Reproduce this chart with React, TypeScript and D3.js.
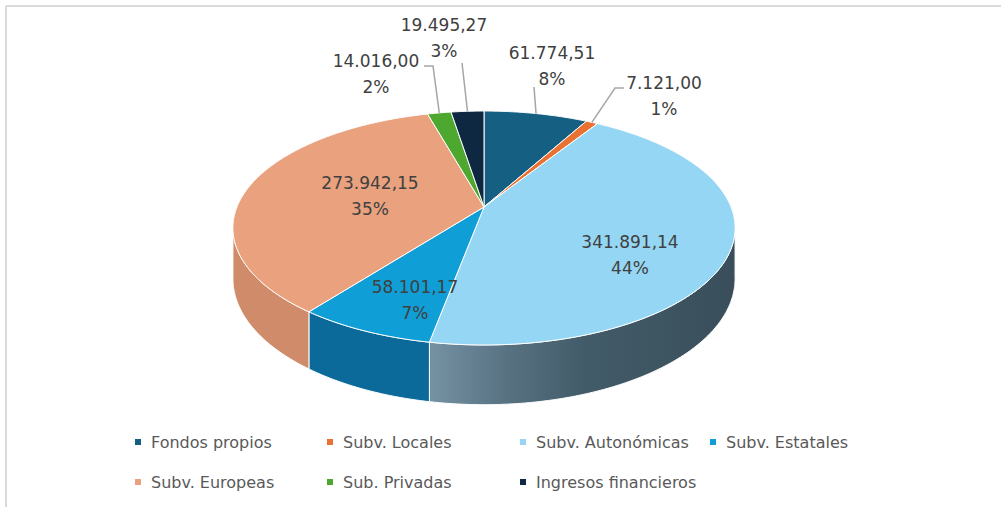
import React from "react";
import * as d3 from "d3";

// ---- data ----
const categories = [
  "Fondos propios",
  "Subv. Locales",
  "Subv. Autonómicas",
  "Subv. Estatales",
  "Subv. Europeas",
  "Sub. Privadas",
  "Ingresos financieros",
];
const values = [61774.51, 7121.0, 341891.14, 58101.17, 273942.15, 14016.0, 19495.27];

// ---- styles ----
const topColors = ["#156082", "#E97132", "#94D6F3", "#0F9ED5", "#E9A17E", "#4EA72E", "#0E2841"];
const sideColors = ["#0f4a66", "#b8582a", "url(#sideAuto)", "#0b6a9a", "#cf8b6a", "#3a8022", "#0a1d30"];

// label layout (center of first line), leader end points
const labelPos: [number, number][] = [
  [552, 53],
  [664, 83],
  [630, 242],
  [415, 287],
  [370, 183],
  [376, 61],
  [444, 25],
];
const leaderPts: ([number, number][] | null)[] = [
  [[534, 87]],
  [[615, 88], [624, 88]],
  null,
  null,
  null,
  [[433, 66], [424, 66]],
  [[462, 63]],
];
const legendCols = [135, 327, 520, 710];
const legendRows = [442, 482];

// ---- geometry ----
const W = 1001;
const H = 507;
const cx = 484;
const cy = 207;
const A = 247;
const B = 113.2;
const K = 0.1795;
const D0 = 49;

function proj(a: number, r = 1): [number, number] {
  const u = r * Math.sin(a);
  const v = -r * Math.cos(a);
  const w = 1 - K * v;
  return [cx + (A * u) / w, cy + (B * v) / w];
}
function depth(a: number): number {
  const v = -Math.cos(a);
  return D0 / (1 - K * v);
}
function arcPts(a0: number, a1: number): [number, number][] {
  const n = Math.max(2, Math.ceil(Math.abs(a1 - a0) / (Math.PI / 360)));
  const pts: [number, number][] = [];
  for (let i = 0; i <= n; i++) pts.push(proj(a0 + ((a1 - a0) * i) / n));
  return pts;
}

const locale = d3.formatLocale({ decimal: ",", thousands: ".", grouping: [3], currency: ["", "€"] });
const fmt = locale.format(",.2f");

export default function App() {
  const pie = d3.pie<number>().sort(null).value((d) => d);
  const arcs = pie(values);
  const total = d3.sum(values);
  const line = d3.line();

  const visA0 = Math.acos(-K);
  const visA1 = 2 * Math.PI - visA0;

  const sides = arcs
    .map((s, i) => {
      const a0 = Math.max(s.startAngle, visA0);
      const a1 = Math.min(s.endAngle, visA1);
      if (a1 <= a0) return null;
      const top = arcPts(a0, a1);
      const n = top.length - 1;
      const bottom: [number, number][] = top
        .map((p, j) => [p[0], p[1] + depth(a0 + ((a1 - a0) * j) / n)] as [number, number])
        .reverse();
      return { i, d: line([...top, ...bottom])! + "Z" };
    })
    .filter(Boolean) as { i: number; d: string }[];

  const tops = arcs.map((s, i) => {
    const pts = arcPts(s.startAngle, s.endAngle);
    return { i, d: line([[cx, cy], ...pts])! + "Z" };
  });

  const labelFont = "'DejaVu Sans', 'Liberation Sans', sans-serif";

  return (
    <svg
      width={W}
      height={H}
      style={{ position: "absolute", left: 0, top: 0, background: "#fff" }}
    >
      <defs>
        <linearGradient id="sideAuto" gradientUnits="userSpaceOnUse" x1={430} y1={0} x2={735} y2={0}>
          <stop offset="0" stopColor="#7592a3" />
          <stop offset="0.25" stopColor="#587282" />
          <stop offset="0.5" stopColor="#435c6a" />
          <stop offset="1" stopColor="#394e5a" />
        </linearGradient>
      </defs>
      <rect x={0} y={0} width={W} height={H} fill="#fff" />
      <line x1={6} y1={6} x2={W} y2={6} stroke="#d9d9d9" strokeWidth={2} />
      <line x1={6} y1={6} x2={6} y2={H} stroke="#d9d9d9" strokeWidth={2} />

      {sides.map((s) => (
        <path key={"s" + s.i} d={s.d} fill={sideColors[s.i]} stroke="#ffffff" strokeWidth={1} strokeLinejoin="round" />
      ))}
      {tops.map((t) => (
        <path key={"t" + t.i} d={t.d} fill={topColors[t.i]} stroke="#ffffff" strokeWidth={1} strokeLinejoin="round" />
      ))}

      {arcs.map((s, i) => {
        const pts = leaderPts[i];
        if (!pts) return null;
        const mid = (s.startAngle + s.endAngle) / 2;
        const start = proj(mid, 1);
        return (
          <path
            key={"l" + i}
            d={line([start, ...pts])!}
            fill="none"
            stroke="#a6a6a6"
            strokeWidth={1.5}
          />
        );
      })}

      {arcs.map((s, i) => {
        const [x, y] = labelPos[i];
        const pct = Math.round((values[i] / total) * 100) + "%";
        return (
          <g key={"lab" + i} fontFamily={labelFont} fontSize={17} fill="#404040" textAnchor="middle">
            <text x={x} y={y} dy="0.36em">{fmt(values[i])}</text>
            <text x={x} y={y + 26} dy="0.36em">{pct}</text>
          </g>
        );
      })}

      {categories.map((c, i) => {
        const col = legendCols[i % 4];
        const row = legendRows[Math.floor(i / 4)];
        const cIdx = i < 4 ? i : i - 4;
        const x = legendCols[cIdx];
        void col;
        return (
          <g key={"lg" + i}>
            <rect x={x} y={row - 3} width={6} height={6} fill={topColors[i]} />
            <text
              x={x + 16}
              y={row}
              dy="0.36em"
              fontFamily={labelFont}
              fontSize={16}
              fill="#595959"
            >
              {c}
            </text>
          </g>
        );
      })}
    </svg>
  );
}
